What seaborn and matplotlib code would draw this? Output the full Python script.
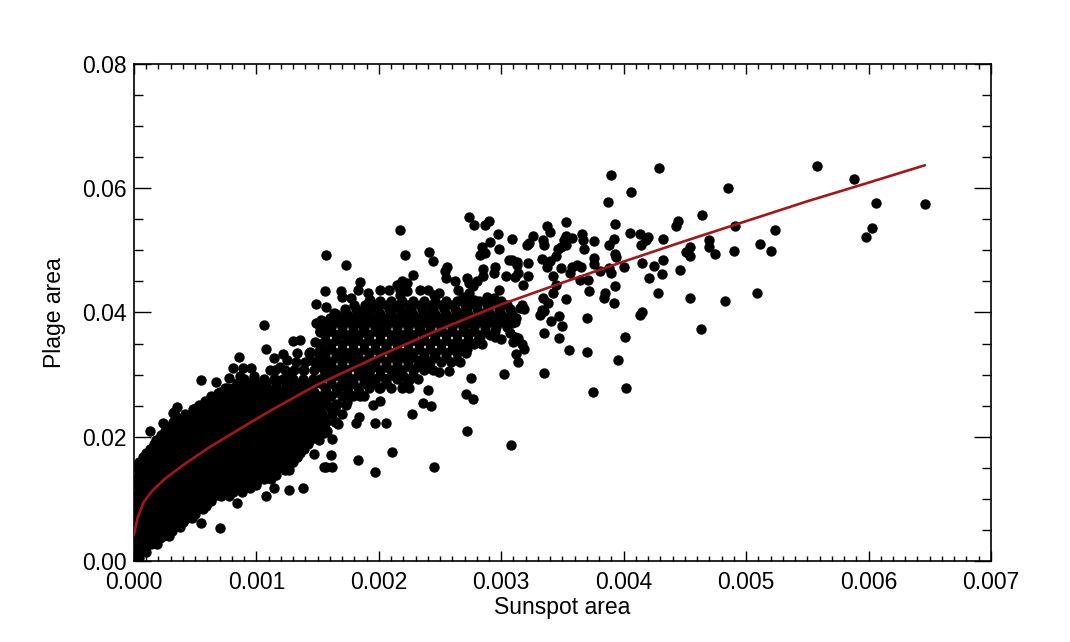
import numpy as np
import pandas as pd
import matplotlib
matplotlib.use("Agg")
import matplotlib.pyplot as plt
import matplotlib.ticker as mticker
import seaborn as sns

# ---------------------------------------------------------------------------
# Data
# sunspot area is typed in units of 1e-5, plage area in units of 1e-4
# ---------------------------------------------------------------------------

X_UNIT = 1e-5
Y_UNIT = 1e-4

# solid core near the origin: plage level of each row, and the sunspot values on it
blob_levels = [4, 14, 20, 27, 34, 41, 48, 55, 62, 69, 76, 83, 90, 97, 104,
               111, 118, 125, 132, 139, 146, 153, 160, 167, 174, 181, 188,
               195, 202, 209, 216, 223, 230, 237, 244, 251, 258, 265, 272,
               279, 286, 293, 307, 321, 335]
blob_rows = [
    [1, 4],
    [0, 5, 10],
    [2, 8],
    [2, 8, 14, 19],
    [4, 10, 16],
    [0, 6, 12, 18, 24, 29],
    [1, 7, 13, 19, 25, 31],
    [3, 9, 15, 21, 27, 33, 38],
    [4, 10, 16, 22, 28, 34, 40],
    [1, 7, 13, 19, 25, 31, 37, 43, 47],
    [2, 8, 14, 20, 26, 32, 38, 44, 50],
    [4, 10, 16, 22, 28, 34, 40, 46, 52, 56],
    [4, 11, 18, 25, 32, 39, 46, 53, 59],
    [1, 8, 15, 22, 29, 36, 43, 50, 57, 63],
    [1, 8, 15, 22, 29, 36, 43, 50, 57, 64, 71, 78],
    [4, 11, 18, 25, 32, 39, 46, 53, 60, 67, 74, 81, 88],
    [4, 11, 18, 25, 32, 39, 46, 53, 60, 67, 74, 81, 88, 95],
    [1, 8, 15, 22, 29, 36, 43, 50, 57, 64, 71, 78, 85, 92, 100],
    [1, 8, 15, 22, 29, 36, 43, 50, 57, 64, 71, 78, 85, 92, 99, 106, 112],
    [4, 11, 18, 25, 32, 39, 46, 53, 60, 67, 74, 81, 88, 95, 102, 109, 116],
    [4, 11, 18, 25, 32, 39, 46, 53, 60, 67, 74, 81, 88, 95, 102, 109, 116, 123],
    [1, 8, 15, 22, 29, 36, 43, 50, 57, 64, 71, 78, 85, 92, 99, 106, 113, 120, 127],
    [4, 11, 18, 25, 32, 39, 46, 53, 60, 67, 74, 81, 88, 95, 102, 109, 116, 123, 130],
    [7, 14, 21, 28, 35, 42, 49, 56, 63, 70, 77, 84, 91, 98, 105, 112, 119, 126, 133],
    [10, 17, 24, 31, 38, 45, 52, 59, 66, 73, 80, 87, 94, 101, 108, 115, 122, 129, 136],
    [13, 20, 27, 34, 41, 48, 55, 62, 69, 76, 83, 90, 97, 104, 111, 118, 125, 132, 139],
    [16, 23, 30, 37, 44, 51, 58, 65, 72, 79, 86, 93, 100, 107, 114, 121, 128, 135, 142],
    [18, 25, 32, 39, 46, 53, 60, 67, 74, 81, 88, 95, 102, 109, 116, 123, 130, 137, 144, 151],
    [22, 29, 36, 43, 50, 57, 64, 71, 78, 85, 92, 99, 106, 113, 120, 127, 134, 141, 147],
    [25, 32, 39, 46, 53, 60, 67, 74, 81, 88, 95, 102, 109, 116, 123, 130, 137, 144, 150, 158],
    [29, 36, 43, 50, 57, 64, 71, 78, 85, 92, 99, 106, 113, 120, 127, 134, 141, 148, 155],
    [32, 39, 46, 53, 60, 67, 74, 81, 88, 95, 102, 109, 116, 123, 130, 137, 144, 150, 157, 165],
    [37, 44, 51, 58, 65, 72, 79, 86, 93, 100, 107, 114, 121, 128, 135, 142, 149, 156],
    [42, 49, 56, 63, 70, 77, 84, 91, 98, 105, 112, 119, 126, 133, 140, 147, 154, 162, 170],
    [48, 55, 62, 69, 76, 83, 90, 97, 104, 111, 118, 125, 132, 139, 146, 153, 161],
    [53, 60, 67, 74, 81, 88, 95, 102, 109, 116, 123, 130, 137, 144],
    [58, 65, 72, 79, 86, 93, 100, 107, 114, 121, 128, 135, 142, 149],
    [63, 70, 77, 84, 91, 98, 105, 112, 119, 126, 133, 140, 147],
    [70, 77, 84, 91, 98, 105, 112, 119, 126, 133, 140, 147],
    [74, 81, 88, 95, 102, 109, 116, 123, 130, 137, 144],
    [84, 92, 100, 108, 116, 124, 132, 140, 148],
    [90, 98, 106, 114, 122, 130, 138, 146],
    [115, 123, 131, 139, 147],
    [132, 140, 148],
    [143, 150],
]

# dense band further out
band_levels = [251, 265, 272, 279, 286, 293, 300, 307, 314, 321, 328, 335,
               342, 349, 356, 363, 370, 377, 384, 391, 398, 405, 412, 419]
band_rows = [
    [155, 164, 173],
    [152, 161, 170, 179, 188],
    [157, 166, 175, 184],
    [156, 165, 174, 183, 192, 201, 210],
    [152, 161, 170, 179, 188, 197, 206],
    [152, 161, 170, 179, 188, 197, 206, 215, 224, 232],
    [156, 165, 174, 183, 192, 201, 210, 219, 228],
    [156, 165, 174, 183, 192, 201, 210, 219, 228, 237, 244],
    [152, 161, 170, 179, 188, 197, 206, 215, 224, 233, 240],
    [152, 161, 170, 179, 188, 197, 206, 215, 224, 233, 242, 251, 259],
    [156, 165, 174, 183, 192, 201, 210, 219, 228, 237, 246, 255],
    [156, 165, 174, 183, 192, 201, 210, 219, 228, 237, 246, 255, 264, 271],
    [152, 161, 170, 179, 188, 197, 206, 215, 224, 233, 242, 251, 260, 267],
    [152, 161, 170, 179, 188, 197, 206, 215, 224, 233, 242, 251, 260, 269, 278, 284],
    [156, 165, 174, 183, 192, 201, 210, 219, 228, 237, 246, 255, 264, 273, 281],
    [156, 165, 174, 183, 192, 201, 210, 219, 228, 237, 246, 255, 264, 273, 282, 291],
    [152, 161, 170, 179, 188, 197, 206, 215, 224, 233, 242, 251, 260, 269, 278, 287, 295],
    [152, 161, 170, 179, 188, 197, 206, 215, 224, 233, 242, 251, 260, 269, 278, 287, 296, 305],
    [156, 165, 174, 183, 192, 201, 210, 219, 228, 237, 246, 255, 264, 273, 282, 291, 300, 308],
    [160, 169, 178, 187, 196, 205, 214, 223, 232, 241, 250, 259, 268, 277, 286, 295, 304, 312],
    [165, 174, 183, 192, 201, 210, 219, 228, 237, 246, 255, 264, 273, 282, 291, 300, 309],
    [172, 181, 190, 199, 208, 217, 226, 235, 244, 253, 262, 271, 280, 289, 298, 307],
    [180, 189, 198, 207, 216, 225, 234, 243, 252, 261, 270, 279, 288, 297, 305],
    [192, 201, 210, 219, 228, 237, 246, 255, 264, 273, 282, 291, 300],
]

# single points on the lower / left edge of the cloud
lower_x = [127, 138, 108, 100, 114, 104, 84, 70, 55, 49,
           59, 65, 38, 21, 24, 13, 8, 2, 78, 87,
           92, 78, 62, 70, 54, 46, 38, 29, 19, 27,
           117, 127, 133, 111, 157, 147, 138, 155, 13, 24]
lower_y = [114, 117, 104, 122, 117, 136, 93, 53, 61, 79,
           88, 104, 82, 37, 50, 53, 23, 12, 114, 136,
           152, 152, 125, 136, 109, 98, 114, 98, 77, 77,
           157, 147, 168, 173, 152, 173, 189, 206, 210, 222]

upper_left_x = [32, 35, 51, 33, 55, 67, 63, 69, 72, 76,
                81, 78, 87, 81, 89, 96, 86, 98, 104, 111,
                119, 127, 138, 144, 133, 125, 117, 114, 122, 108,
                130, 136, 144, 148, 152, 149, 153, 106, 149]
upper_left_y = [238, 248, 246, 240, 292, 288, 263, 270, 253, 278,
                275, 294, 297, 310, 310, 310, 328, 297, 281, 307,
                313, 302, 307, 324, 334, 324, 291, 326, 333, 341,
                354, 356, 337, 353, 369, 383, 388, 380, 413]

mid_x = [274, 278, 287, 290, 217, 297, 157, 173, 221, 241,
         244, 284, 291, 287, 283, 298, 306, 313, 304, 295,
         294, 285, 285, 256, 254, 255, 228, 219, 223, 217,
         185, 183, 156, 169, 170, 201, 208, 262, 272, 274,
         277, 280, 298, 177, 191, 193, 215, 217, 223, 234,
         240, 245, 249, 265, 269, 274, 278, 288, 294, 157,
         163, 168, 182, 187, 195, 200, 198, 209, 215, 217,
         223, 231, 239, 245, 253, 264, 272, 283, 294, 304,
         272, 179, 187]
mid_y = [554, 541, 541, 548, 532, 526, 492, 477, 492, 498,
         483, 506, 514, 495, 493, 502, 485, 477, 458, 474,
         463, 470, 458, 474, 466, 455, 460, 451, 447, 436,
         449, 436, 435, 434, 425, 437, 437, 451, 455, 447,
         442, 451, 437, 423, 431, 420, 444, 428, 434, 436,
         436, 428, 431, 436, 425, 431, 420, 425, 423, 409,
         399, 393, 399, 401, 409, 399, 383, 393, 409, 388,
         399, 388, 399, 388, 409, 401, 409, 399, 393, 391,
         383, 383, 377]

low_mid_x = [283, 295, 300, 302, 275, 272, 271, 277, 272, 245,
             211, 197, 183, 161, 155, 162, 162, 154, 164, 167,
             181, 184, 197, 206, 227, 236, 243, 240, 195, 201,
             157, 166, 219, 225, 224, 200, 176, 174, 249, 257,
             264, 266, 242, 235, 272, 269, 285, 307, 314, 155,
             168, 179, 190, 201, 212, 223, 234, 245, 255, 261,
             266, 255, 245, 234, 223, 212, 201, 190, 179, 168,
             157, 160, 168, 176, 185, 193, 201, 206, 215, 220,
             225, 231, 239, 217, 206, 155, 164, 193, 185, 206,
             220, 182, 168, 155, 156]
low_mid_y = [360, 361, 358, 301, 295, 341, 269, 261, 209, 151,
             176, 143, 163, 171, 152, 152, 196, 214, 223, 221,
             222, 232, 222, 222, 237, 255, 250, 275, 251, 258,
             255, 252, 278, 278, 291, 278, 267, 256, 305, 306,
             324, 321, 310, 318, 367, 385, 385, 367, 359, 377,
             366, 361, 366, 372, 361, 366, 372, 356, 366, 345,
             340, 334, 329, 324, 334, 329, 334, 324, 329, 334,
             340, 297, 281, 291, 302, 307, 297, 313, 307, 297,
             291, 313, 318, 356, 345, 265, 243, 286, 265, 286,
             281, 316, 307, 307, 324]

right_x = [429, 390, 406, 387, 353, 337, 393, 444, 443, 340,
           309, 326, 323, 321, 334, 335, 351, 353, 358, 366,
           367, 376, 405, 413, 414, 418, 420, 432, 392, 388,
           346, 349, 353, 345, 368, 393, 394, 454, 451, 454,
           309, 313, 322, 333, 340, 337, 349, 358, 362, 365,
           376, 376, 381, 388, 390, 400, 415, 425, 432, 431,
           446, 421, 311, 314, 318, 322, 342, 345, 356, 364,
           371, 372, 393, 428, 385, 384, 342, 334, 353, 454,
           392, 338, 333, 335, 332, 317, 319, 315, 309, 311,
           309, 347, 341, 350, 370, 413, 415, 335, 347, 401,
           311, 310, 317, 319, 355, 370, 395, 312, 314, 335,
           375, 402, 308]
right_y = [632, 621, 594, 578, 546, 540, 542, 547, 539, 529,
           519, 523, 512, 508, 517, 508, 517, 523, 520, 527,
           517, 515, 528, 526, 509, 517, 521, 518, 519, 508,
           503, 506, 509, 491, 502, 494, 489, 506, 498, 491,
           485, 482, 480, 486, 483, 473, 472, 473, 476, 474,
           487, 478, 467, 472, 463, 473, 479, 475, 485, 462,
           469, 455, 457, 464, 444, 458, 458, 444, 463, 452,
           452, 435, 443, 432, 432, 423, 431, 424, 421, 423,
           415, 416, 404, 403, 396, 412, 406, 407, 393, 385,
           383, 395, 386, 378, 391, 396, 400, 367, 359, 361,
           361, 353, 350, 342, 340, 336, 324, 333, 321, 302,
           272, 279, 186]

tail_x = [558, 588, 485, 464, 606, 646, 603, 598, 491, 524,
          470, 470, 475, 490, 511, 520, 483, 509, 463]
tail_y = [636, 615, 600, 557, 576, 574, 536, 522, 540, 533,
          516, 506, 494, 499, 511, 499, 419, 431, 373]

# fitted relation (dark red curve)
fit_x = [0, 3, 8, 15, 25, 40, 60, 85, 115, 150,
         200, 250, 300, 350, 400, 450, 500, 550, 600, 646]
fit_y = [42, 70, 95, 113, 132, 154, 181, 211, 246, 284,
         330, 373, 413, 448, 482, 515, 547, 579, 609, 637]

x_ticks = [0.000, 0.001, 0.002, 0.003, 0.004, 0.005, 0.006, 0.007]
y_ticks = [0.00, 0.02, 0.04, 0.06, 0.08]

# ---------------------------------------------------------------------------
# Assemble
# ---------------------------------------------------------------------------

def expand_rows(levels, rows):
    if len(levels) != len(rows):
        raise ValueError(f"{len(levels)} levels vs {len(rows)} rows")
    xs, ys = [], []
    for level, row in zip(levels, rows):
        xs.extend(row)
        ys.extend([level] * len(row))
    return xs, ys


groups = {
    "blob": expand_rows(blob_levels, blob_rows),
    "band": expand_rows(band_levels, band_rows),
    "lower": (lower_x, lower_y),
    "upper_left": (upper_left_x, upper_left_y),
    "mid": (mid_x, mid_y),
    "low_mid": (low_mid_x, low_mid_y),
    "right": (right_x, right_y),
    "tail": (tail_x, tail_y),
}
for name, (gx, gy) in groups.items():
    if len(gx) != len(gy):
        raise ValueError(f"{name}: {len(gx)} x vs {len(gy)} y")

df = pd.DataFrame({
    "sunspot": np.concatenate([g[0] for g in groups.values()]) * X_UNIT,
    "plage": np.concatenate([g[1] for g in groups.values()]) * Y_UNIT,
})
fit = pd.DataFrame({
    "sunspot": np.array(fit_x) * X_UNIT,
    "plage": np.array(fit_y) * Y_UNIT,
})

# ---------------------------------------------------------------------------
# Plot
# ---------------------------------------------------------------------------

FONT_SIZE = 16.5

sns.set_style("white")
plt.rcParams["font.family"] = ["Liberation Sans", "DejaVu Sans"]

fig = plt.figure(figsize=(10.7, 6.42), dpi=100)
ax = fig.add_axes([0.1252, 0.1262, 0.8009, 0.7741])

sns.scatterplot(data=df, x="sunspot", y="plage", color="black", s=56,
                linewidth=0, ax=ax, zorder=2)
sns.lineplot(data=fit, x="sunspot", y="plage", color="#a3161c", lw=1.9,
             sort=False, estimator=None, ax=ax, zorder=3)

ax.set_xlim(0, 0.007)
ax.set_ylim(0, 0.08)
ax.set_xticks(x_ticks)
ax.set_yticks(y_ticks)
ax.xaxis.set_minor_locator(mticker.MultipleLocator(0.0001))
ax.yaxis.set_minor_locator(mticker.MultipleLocator(0.005))
ax.xaxis.set_major_formatter(mticker.FormatStrFormatter("%.3f"))
ax.yaxis.set_major_formatter(mticker.FormatStrFormatter("%.2f"))

for spine in ax.spines.values():
    spine.set_color("black")
    spine.set_linewidth(1.2)

ax.tick_params(which="both", direction="in", bottom=True, left=True,
               top=True, right=True, color="black", width=1.0,
               labelsize=FONT_SIZE, labelcolor="black")
ax.tick_params(axis="x", which="major", length=7.5, pad=7)
ax.tick_params(axis="x", which="minor", length=3.8)
ax.tick_params(axis="y", which="major", length=12.5, pad=5)
ax.tick_params(axis="y", which="minor", length=6.2)

ax.set_xlabel("Sunspot area", fontsize=FONT_SIZE, color="black")
ax.set_ylabel("Plage area", fontsize=FONT_SIZE, color="black")
ax.xaxis.set_label_coords(0.5, -0.070)
ax.yaxis.set_label_coords(-0.079, 0.5)

fig.savefig("out.png", dpi=100)
plt.close(fig)
